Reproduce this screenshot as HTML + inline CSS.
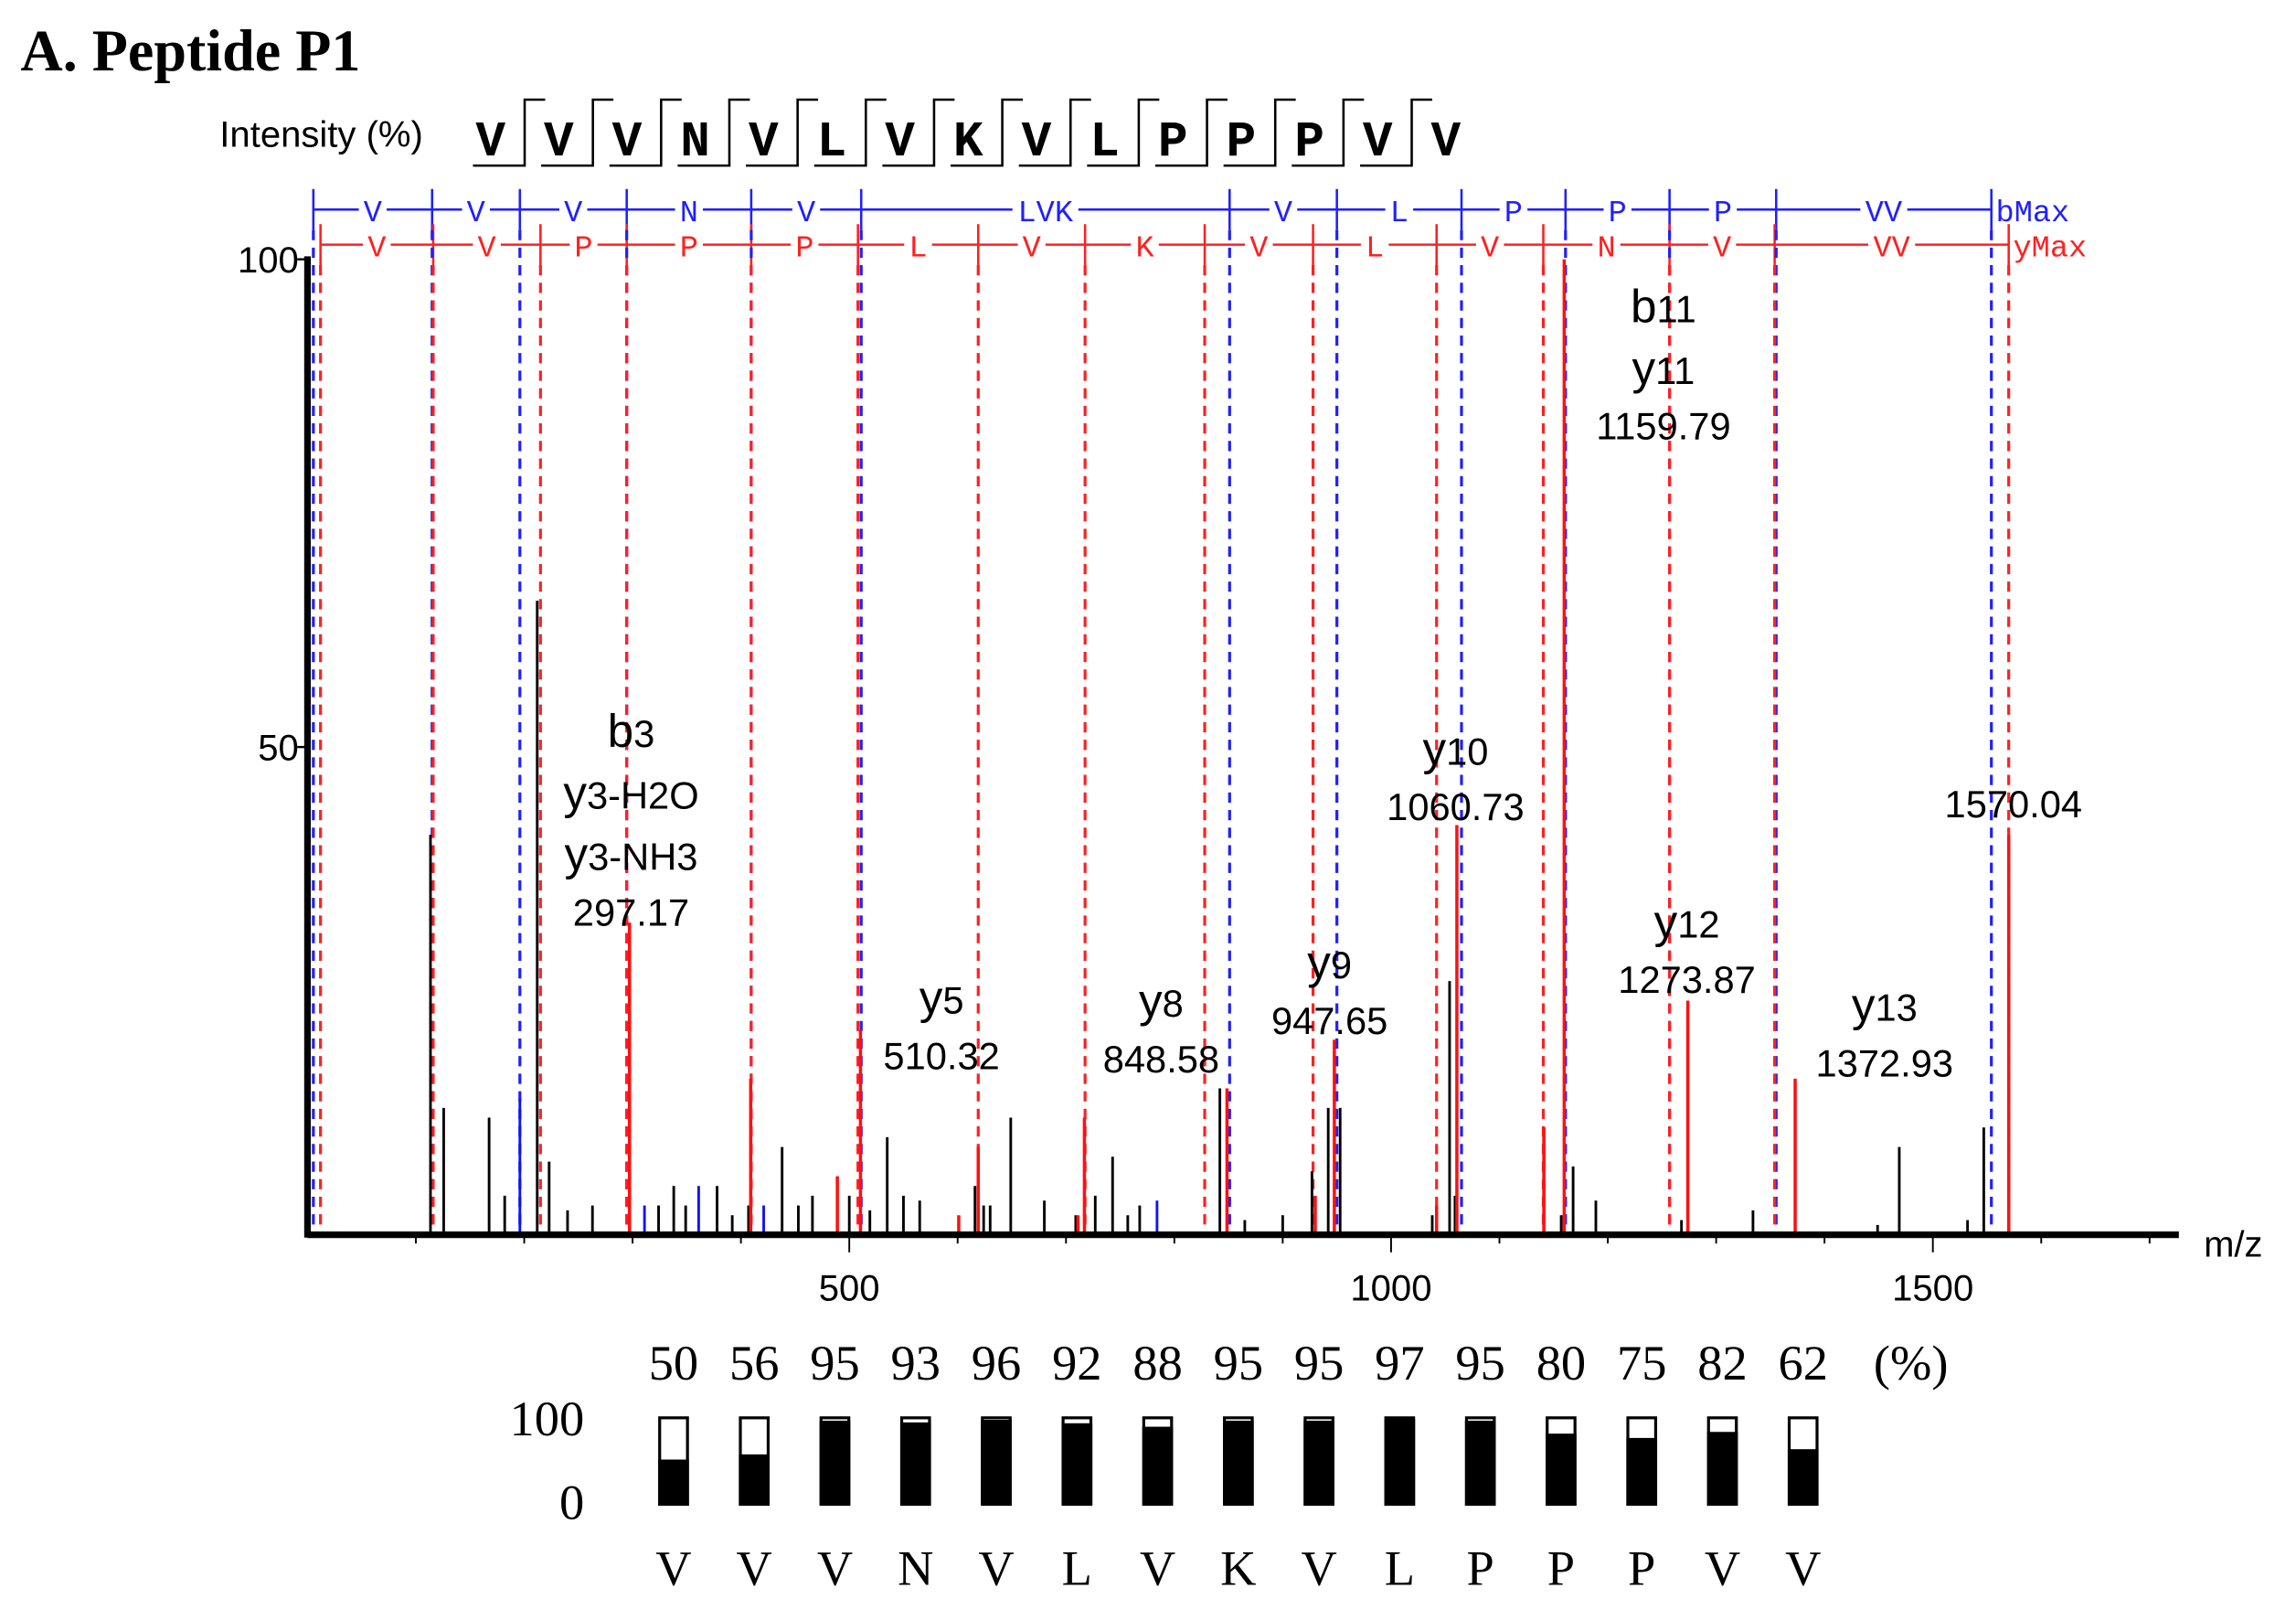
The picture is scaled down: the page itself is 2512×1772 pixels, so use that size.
<!DOCTYPE html>
<html><head><meta charset="utf-8"><style>
html,body{margin:0;padding:0;background:#fff;}
svg{display:block;}
</style></head><body>
<svg id="chart" width="2512" height="1772" viewBox="0 0 1568 1106" xmlns="http://www.w3.org/2000/svg">
<text x="14" y="48" font-family="Liberation Serif, serif" font-weight="bold" font-size="40">A. Peptide P1</text>
<text x="150" y="100" font-family="Liberation Sans, sans-serif" font-size="25">Intensity (%)</text>
<g id="seq"></g>
<g id="ladder"></g>
<g id="dashes"></g>
<g id="peaks"></g>
<g id="axes"></g>
<g id="annots"></g>
<g id="cons"></g>
</svg>
<script>
const sequence = ["V","V","V","N","V","L","V","K","V","L","P","P","P","V","V"];
const confidence = [50,56,95,93,96,92,88,95,95,97,95,80,75,82,62];
const xTicks = [500,1000,1500];
const yTicks = [50,100];
const bIons = [5.4,115,196,294.6,409.5,511,851,950,1065,1161,1257,1355.4,1554];
const bLabels = ["V","V","V","N","V","LVK","V","L","P","P","P","VV"];
const yIons = [12,116,215,294.6,409.5,508,619,717.6,828,928,1042,1140.5,1257,1354,1570];
const yLabels = ["V","V","P","P","P","L","V","K","V","L","V","N","V","VV"];
const blackMz = [113.5,125.7,167.6,182,212,223,240,263,324,338,349,378,392,407,438,453,466,500,519,535,550,565,616,624,630,649,680,709,727,743,757,768,842,865,900,927,942,953,1038,1054,1059,1157,1168,1189,1268,1334,1449,1469,1532,1547];
const blackInt = [41,13,12,4,65,7.5,2.5,3,3,5,3,5,2,3,9,3,4,4,2.5,10,4,3.5,5,3,3,12,3.5,2,4,8,2,3,15,1.5,2,6.5,13,13,2,26,4,2,7,3.5,1.5,2.5,1,9,1.5,11];
const blueMz = [196,311,361,421,784];
const blueInt = [14,3,5,3,3.5];
const redMz = [297.17,510.32,409,619,717,848.58,947.65,1042,1060.73,1141,1159.79,1273.87,1372.93,1570.04,930,711,489,601];
const redInt = [32,21,16,9,12,15,20,3,42,11,100,24,16,41,4,2,6,2];
const annotations = [
 {mz:297.17,lx:431,lines:[["b","3"],["y","3-H2O"],["y","3-NH3"]],val:"297.17",top:510},
 {mz:510.32,lx:643,lines:[["y","5"]],val:"510.32",top:692},
 {mz:848.58,lx:793,lines:[["y","8"]],val:"848.58",top:694},
 {mz:947.65,lx:908,lines:[["y","9"]],val:"947.65",top:668},
 {mz:1060.73,lx:994,lines:[["y","10"]],val:"1060.73",top:522},
 {mz:1159.79,lx:1136,lines:[["b","11"],["y","11"]],val:"1159.79",top:220},
 {mz:1273.87,lx:1152,lines:[["y","12"]],val:"1273.87",top:640},
 {mz:1372.93,lx:1287,lines:[["y","13"]],val:"1372.93",top:697},
 {mz:1570.04,lx:1375,lines:[],val:"1570.04",top:562}
];
const NS="http://www.w3.org/2000/svg";
const X0=210,XS=0.74,Y0=843,YS=6.66;
function xs(m){return X0+m*XS;}
function ys(v){return Y0-v*YS;}
function mk(tag,attrs,parent){const e=document.createElementNS(NS,tag);for(const k in attrs)e.setAttribute(k,attrs[k]);parent.appendChild(e);return e;}
const seqG=document.getElementById('seq'),lad=document.getElementById('ladder'),dash=document.getElementById('dashes'),pk=document.getElementById('peaks'),ax=document.getElementById('axes'),an=document.getElementById('annots'),cons=document.getElementById('cons');

sequence.forEach((aa,i)=>{
  const cx=335+i*46.6;
  const t=mk('text',{x:cx,y:106,'text-anchor':'middle','font-family':'Liberation Mono, monospace','font-weight':'bold','font-size':'34'},seqG);
  t.textContent=aa;
  
  
  if(i<sequence.length-1){
    const mid=cx+23.3;
    const p=mk('path',{d:`M${cx-12},113 H${mid} V68 H${mid+14}`,fill:'none',stroke:'#000','stroke-width':'1.6'},seqG);
    
    
  }
});

function ladder(ions,labels,y,color,maxText){
  const x1=xs(ions[0]),x2=xs(ions[ions.length-1]);
  mk('line',{x1:x1,x2:x2,y1:y,y2:y,stroke:color,'stroke-width':'1.6'},lad);
  ions.forEach(m=>{mk('line',{x1:xs(m),x2:xs(m),y1:y-14,y2:y+14,stroke:color,'stroke-width':'1.6'},lad);});
  labels.forEach((l,i)=>{
    const c=(xs(ions[i])+xs(ions[i+1]))/2;
    const w=l.length*13+6;
    mk('rect',{x:c-w/2,y:y-9,width:w,height:18,fill:'#fff'},lad);
    const t=mk('text',{x:c,y:y+8,'text-anchor':'middle','font-family':'Liberation Mono, monospace','font-size':'21',fill:color},lad);
    t.textContent=l;
    
    
  });
  const t=mk('text',{x:x2+3,y:y+8,'font-family':'Liberation Mono, monospace','font-size':'21',fill:color},lad);
  t.textContent=maxText;
  
  
  ions.forEach(m=>{
    const l=mk('line',{x1:xs(m),x2:xs(m),y1:y+14,y2:Y0,stroke:color,'stroke-width':'2','stroke-dasharray':'7,5'},dash);
    
    
  });
}
ladder(bIons,bLabels,143,'#2020ff','bMax');
ladder(yIons,yLabels,167,'#ff2020','yMax');

function peaks(ms,is,color,w){
  ms.forEach((m,i)=>{
    const l=mk('line',{x1:xs(m),x2:xs(m),y1:Y0,y2:ys(is[i]),stroke:color,'stroke-width':w},pk);
    
    
  });
}
peaks(blackMz,blackInt,'#000','1.8');
peaks(blueMz,blueInt,'#1010ff','1.8');
peaks(redMz,redInt,'#ff1010','2.2');

mk('line',{x1:X0,x2:X0,y1:ys(100)-2,y2:Y0+2,stroke:'#000','stroke-width':'4.5'},ax);
mk('line',{x1:X0,x2:1488,y1:Y0,y2:Y0,stroke:'#000','stroke-width':'4.5'},ax);
for(let m=100;m<=1700;m+=100){mk('line',{x1:xs(m),x2:xs(m),y1:Y0,y2:Y0+(m%500===0?12:6),stroke:'#000','stroke-width':'1.2'},ax);}
xTicks.forEach(v=>{const t=mk('text',{x:xs(v),y:888,'text-anchor':'middle','font-family':'Liberation Sans, sans-serif','font-size':'25'},ax);t.textContent=v;
 
 });
yTicks.forEach(v=>{mk('line',{x1:X0-7,x2:X0,y1:ys(v),y2:ys(v),stroke:'#000','stroke-width':'1.5'},ax);
 const t=mk('text',{x:X0-6,y:ys(v)+9,'text-anchor':'end','font-family':'Liberation Sans, sans-serif','font-size':'25'},ax);t.textContent=v;
 
 });
const xt=mk('text',{x:1505,y:858,'font-family':'Liberation Sans, sans-serif','font-size':'25'},ax);xt.textContent='m/z';



annotations.forEach(a=>{
  const cx=a.lx;
  let y=a.top;
  a.lines.forEach(ln=>{
    const t=mk('text',{x:cx,y:y,'text-anchor':'middle','font-family':'Liberation Sans, sans-serif','font-size':'32'},an);
    
    
    const s1=mk('tspan',{},t);s1.textContent=ln[0];
    const s2=mk('tspan',{'font-size':'26'},t);s2.textContent=ln[1];
    y+=42;
  });
  const t=mk('text',{x:cx,y:y-4,'text-anchor':'middle','font-family':'Liberation Sans, sans-serif','font-size':'26'},an);
  t.textContent=a.val;
  
  
});

const pl=mk('text',{x:1305,y:942,'text-anchor':'middle','font-family':'Liberation Serif, serif','font-size':'34'},cons);pl.textContent='(%)';


const t100=mk('text',{x:399,y:980,'text-anchor':'end','font-family':'Liberation Serif, serif','font-size':'34'},cons);t100.textContent='100';


const t0=mk('text',{x:399,y:1037,'text-anchor':'end','font-family':'Liberation Serif, serif','font-size':'34'},cons);t0.textContent='0';


const BT=968,BH=59,BW=19;
confidence.forEach((c,i)=>{
  const cx=460+i*55.1;
  const t=mk('text',{x:cx,y:942,'text-anchor':'middle','font-family':'Liberation Serif, serif','font-size':'34'},cons);t.textContent=c;
  
  
  const r=mk('rect',{x:cx-BW/2,y:BT,width:BW,height:BH,fill:'#fff',stroke:'#000','stroke-width':'2'},cons);
  
  
  const f=mk('rect',{x:cx-BW/2,y:BT+BH*(1-c/100),width:BW,height:BH*c/100,fill:'#000',stroke:'#000','stroke-width':'2'},cons);
  
  
  const l=mk('text',{x:cx,y:1082,'text-anchor':'middle','font-family':'Liberation Serif, serif','font-size':'34'},cons);l.textContent=sequence[i];
  
  
});
</script>
</body></html>
